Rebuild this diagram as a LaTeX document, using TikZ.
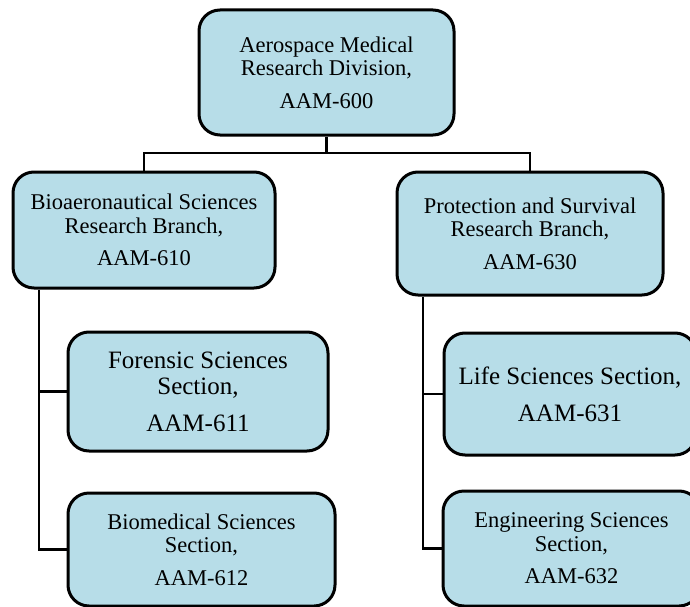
\documentclass[tikz,border=0pt]{standalone}
\usepackage{fontspec}
\setmainfont{Liberation Serif}
\definecolor{boxfill}{HTML}{B7DDE8}
\tikzset{
  unit/.style={draw=black, line width=3pt, fill=boxfill, rectangle,
    rounded corners=21pt, align=center, inner sep=0pt},
  txtA/.style={font=\fontsize{22.5}{23.5}\selectfont},
  txtB/.style={font=\fontsize{25}{26}\selectfont},
  conn/.style={draw=black, line width=2.9pt},
}
\begin{document}
\begin{tikzpicture}[x=1pt, y=-1pt]
  \useasboundingbox (0,0) rectangle (690,607);
  \clip (0,0) rectangle (690,607);

  % division head
  \node[unit, txtA, minimum width=255pt, minimum height=125pt] (div) at (326.5,72.5)
    {Aerospace Medical\\Research Division,\\[9pt]AAM-600};

  % branches
  \node[unit, txtA, minimum width=262pt, minimum height=116pt] (b610) at (144,230)
    {Bioaeronautical Sciences\\Research Branch,\\[9pt]AAM-610};
  \node[unit, txtA, minimum width=266pt, minimum height=123pt] (b630) at (530,233.5)
    {Protection and Survival\\Research Branch,\\[9pt]AAM-630};

  % sections
  \node[unit, txtB, minimum width=260pt, minimum height=119pt] (s611) at (198,391.5)
    {Forensic Sciences\\Section,\\[11pt]AAM-611};
  \node[unit, txtA, minimum width=267pt, minimum height=113pt] (s612) at (201.5,549.5)
    {Biomedical Sciences\\Section,\\[9pt]AAM-612};
  \node[unit, txtB, minimum width=252pt, minimum height=122pt] (s631) at (570,394)
    {Life Sciences Section,\\[11pt]AAM-631};
  \node[unit, txtA, minimum width=257pt, minimum height=115pt] (s632) at (571.5,548.5)
    {Engineering Sciences\\Section,\\[9pt]AAM-632};

  % bus and spine positions
  \coordinate (bus) at (0,153);
  \coordinate (spineL) at (39,0);
  \coordinate (spineR) at (423,0);

  % division to branches
  \draw[conn] (div.south) -- (div.south |- bus);
  \draw[conn] (b610.north) -- (b610.north |- bus) -| (b630.north);

  % left branch to its sections
  \draw[conn] (b610.south -| spineL) -- (spineL |- s612.west) -- (s612.west);
  \draw[conn] (spineL |- s611.west) -- (s611.west);

  % right branch to its sections
  \draw[conn] (b630.south -| spineR) -- (spineR |- s632.west) -- (s632.west);
  \draw[conn] (spineR |- s631.west) -- (s631.west);
\end{tikzpicture}
\end{document}
